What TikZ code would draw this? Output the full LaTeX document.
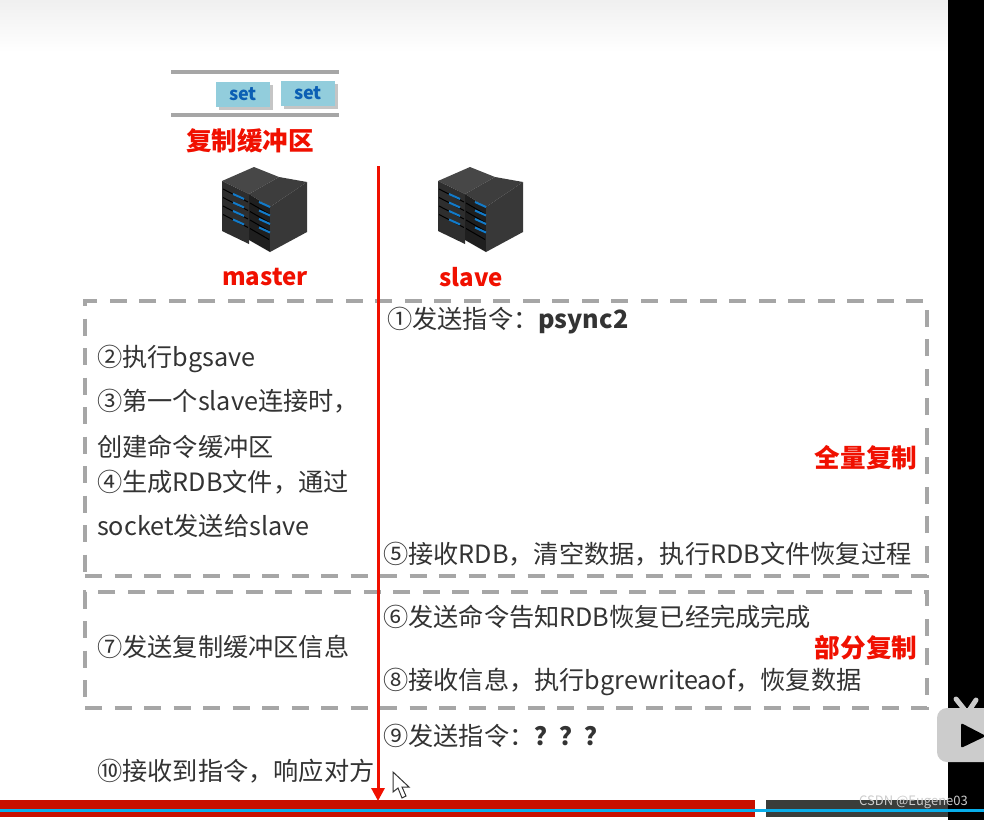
\documentclass[tikz,border=0pt]{standalone}
\usepackage{fontspec}
\setmainfont{Noto Sans CJK SC}
\usepackage{tikz}
\usetikzlibrary{arrows.meta,positioning,shadows}
\definecolor{framegray}{HTML}{A6A6A6}
\definecolor{setfill}{HTML}{92CDDC}
\definecolor{setblue}{HTML}{0B5FB4}
\definecolor{bodytext}{HTML}{333333}
\definecolor{mainred}{HTML}{F01000}
\definecolor{barred}{HTML}{C81000}
\definecolor{bardark}{HTML}{3A3D3B}
\definecolor{barblue}{HTML}{08AEEA}
\tikzset{
  txt/.style={anchor=west, inner sep=0pt, text=bodytext, font=\fontsize{25.2}{30}\selectfont},
  redtxt/.style={anchor=center, inner sep=0pt, text=mainred, font=\fontsize{25.6}{30}\selectfont\bfseries},
  namelabel/.style={redtxt, font=\fontsize{24}{30}\selectfont\bfseries},
  setbox/.style={fill=setfill, minimum width=54pt, minimum height=25pt, inner sep=0pt,
    text=setblue, font=\fontsize{18}{20}\selectfont\bfseries,
    drop shadow={shadow xshift=3pt, shadow yshift=-3pt, fill=black!45}},
  groupbox/.style={draw=framegray, line width=3.5pt, dash pattern=on 17pt off 12.5pt,
    anchor=north west, inner sep=0pt, outer sep=0pt, minimum width=842pt},
  bufline/.style={draw=framegray, line width=4pt},
  timeline/.style={draw=mainred, line width=3pt, -{Triangle[length=13pt,width=13pt]}},
  servericon/.pic={
    \fill[black!72] (0,14) -- (32,0) -- (57,10) -- (27,27) -- cycle;
    \fill[black!82] (0,14) -- (27,27) -- (27,77) -- (0,64) -- cycle;
    \fill[black!76] (27,27) -- (57,10) -- (85,15) -- (48,40) -- cycle;
    \fill[black!88] (27,27) -- (48,40) -- (48,85) -- (27,73) -- cycle;
    \fill[black!78] (48,40) -- (85,15) -- (85,65) -- (48,85) -- cycle;
    \foreach \r in {0,1,2,3}{
      \draw[black, line width=1pt] (1,{22+\r*8.5}) -- (26,{35+\r*8.5});
      \draw[black, line width=1pt] (28,{36+\r*8.5}) -- (47,{47+\r*8.5});
      \draw[cyan!60!blue, line width=2pt] (11,{27+\r*8.5}) -- (22,{32+\r*8.5});
      \draw[cyan!60!blue, line width=2pt] (37,{35+\r*8.5}) -- (48,{40+\r*8.5});
    }
  }
}
\begin{document}
\begin{tikzpicture}[x=1pt, y=-1pt]
  \clip (0,0) rectangle (984,820);
  \fill[white] (0,0) rectangle (984,820);
  \shade[top color=black!6, bottom color=white] (0,0) rectangle (948,52);
  \fill[black] (948,0) rectangle (984,820);
  % buffer
  \coordinate (bufTL) at (171,72);
  \coordinate (bufTR) at (339,72);
  \coordinate (bufBL) at (171,115);
  \coordinate (bufBR) at (339,115);
  \draw[bufline] (bufTL) -- (bufTR);
  \draw[bufline] (bufBL) -- (bufBR);
  \node[setbox] (set1) at (243,94) {set};
  \node[setbox] (set2) at (308,93) {set};
  \node[redtxt] (bufname) at (250,141) {复制缓冲区};
  % servers
  \pic at (222,167) {servericon};
  \pic at (438,167) {servericon};
  \node[namelabel] (master) at (265,277) {master};
  \node[namelabel] (slave) at (471,277) {slave};
  % groups
  \node[groupbox, minimum height=275pt] (full) at (85,301) {};
  \node[groupbox, minimum height=116pt] (part) at (85,592) {};
  \node[redtxt] (fulltxt) at (866,458) {全量复制};
  \node[redtxt] (parttxt) at (866,648) {部分复制};
  % steps
  \node[txt] (s1) at (387,321) {①发送指令：\textbf{psync2}};
  \node[txt] (s2) at (97,359) {②执行bgsave};
  \node[txt] (s3) at (97,401) {③第一个slave连接时，};
  \node[txt] (s3b) at (97,447) {创建命令缓冲区};
  \node[txt] (s4) at (97,482) {④生成RDB文件，通过};
  \node[txt] (s4b) at (97,526) {socket发送给slave};
  \node[txt] (s5) at (383,554) {⑤接收RDB，清空数据，执行RDB文件恢复过程};
  \node[txt] (s6) at (383,617) {⑥发送命令告知RDB恢复已经完成完成};
  \node[txt] (s7) at (97,647) {⑦发送复制缓冲区信息};
  \node[txt] (s8) at (383,682) {⑧接收信息，执行bgrewriteaof，恢复数据};
  \node[txt] (s9) at (383,736) {⑨发送指令：\textbf{？？？}};
  \node[txt] (s10) at (97,771) {⑩接收到指令，响应对方};
  % time axis
  \coordinate (axistop) at (378,166);
  \coordinate (axisend) at (378,801);
  % player bar
  \fill[barred] (0,800) rectangle (755,817);
  \fill[bardark] (766,800) rectangle (948,817);
  \draw[timeline] (axistop) -- (axisend);
  \fill[barblue] (0,809) rectangle (984,812);
  \node[anchor=east, inner sep=0pt, text=white!80!black, font=\fontsize{13}{15}\selectfont] (mark) at (968,802) {CSDN @Eugene03};
  % cursor and play button
  \draw[bodytext, fill=white, line width=1pt] (393,772) -- (393,792) -- (398,788) -- (402,798) -- (406,796) -- (402,787) -- (409,787) -- cycle;
  \fill[black!20, rounded corners=10pt] (937,708) rectangle (1000,762);
  \draw[black!20, line width=5pt, line cap=round] (956,699) -- (964,709);
  \draw[black!20, line width=5pt, line cap=round] (976,700) -- (970,709);
  \fill[black, rounded corners=2pt] (961,723) -- (961,748) -- (986,736) -- cycle;
\end{tikzpicture}
\end{document}
